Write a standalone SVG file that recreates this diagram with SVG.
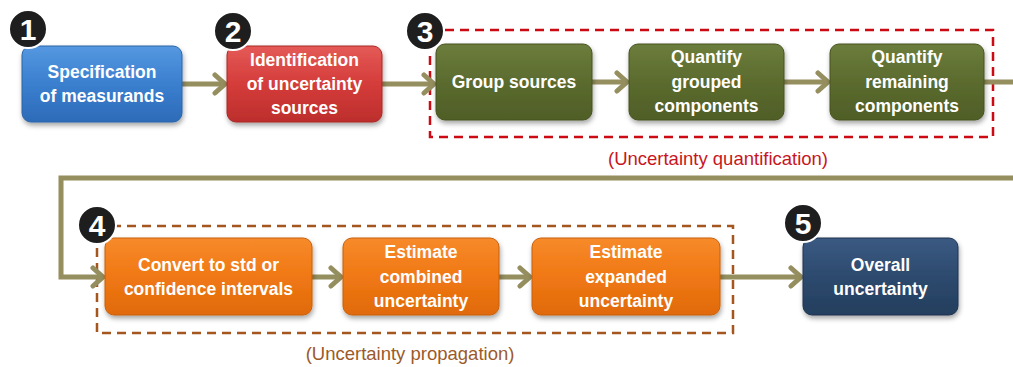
<svg xmlns="http://www.w3.org/2000/svg" width="1013" height="367" viewBox="0 0 1013 367">
<style>
.lbl{font-family:"Liberation Sans",Arial,sans-serif;font-weight:bold;font-size:17.5px;fill:#ffffff;text-anchor:middle}
.num{font-family:"Liberation Sans",Arial,sans-serif;font-weight:bold;font-size:30px;fill:#ffffff;text-anchor:middle}
.cap{font-family:"Liberation Sans",Arial,sans-serif;font-size:18.5px;text-anchor:middle}
.box{stroke-width:1;filter:url(#sh)}
.conn{fill:none;stroke:#958e5e;stroke-width:5;stroke-linejoin:miter}
.badge{fill:#1e1e1e;stroke:#ffffff;stroke-width:2}
</style>
<defs>
<filter id="sh" x="-10%" y="-10%" width="125%" height="135%">
<feDropShadow dx="1" dy="3" stdDeviation="2.5" flood-color="#000" flood-opacity="0.35"/>
</filter>
<linearGradient id="gBlue" x1="0" y1="0" x2="0" y2="1"><stop offset="0" stop-color="#5598e0"/><stop offset="0.5" stop-color="#3a7fcf"/><stop offset="1" stop-color="#2d6bb8"/></linearGradient>
<linearGradient id="gRed" x1="0" y1="0" x2="0" y2="1"><stop offset="0" stop-color="#e45a57"/><stop offset="0.5" stop-color="#d43c3a"/><stop offset="1" stop-color="#bd2e2c"/></linearGradient>
<linearGradient id="gGreen" x1="0" y1="0" x2="0" y2="1"><stop offset="0" stop-color="#6c7d3c"/><stop offset="0.5" stop-color="#5b6b2e"/><stop offset="1" stop-color="#4f5e27"/></linearGradient>
<linearGradient id="gOrange" x1="0" y1="0" x2="0" y2="1"><stop offset="0" stop-color="#f78a2a"/><stop offset="0.5" stop-color="#f07814"/><stop offset="1" stop-color="#e06a0c"/></linearGradient>
<linearGradient id="gNavy" x1="0" y1="0" x2="0" y2="1"><stop offset="0" stop-color="#3b5a82"/><stop offset="0.5" stop-color="#2d4a6e"/><stop offset="1" stop-color="#243e5e"/></linearGradient>
<marker id="arr" markerUnits="userSpaceOnUse" markerWidth="20" markerHeight="24" refX="13" refY="12" orient="auto" viewBox="0 0 20 24">
<path d="M3,3 L13,12 L3,21" fill="none" stroke="#958e5e" stroke-width="5" stroke-linecap="round" stroke-linejoin="miter"/>
</marker>
</defs>
<rect width="1013" height="367" fill="#ffffff"/>

<g id="groups">
<rect id="group-quantification" x="430" y="30" width="563" height="107" fill="none" stroke="#cc0a14" stroke-width="2.5" stroke-dasharray="9,6"/>
<text class="cap" x="718" y="165" fill="#c8161e">(Uncertainty quantification)</text>
<rect id="group-propagation" x="97" y="226" width="636" height="107" fill="none" stroke="#a4561e" stroke-width="2.5" stroke-dasharray="9,6"/>
<text class="cap" x="410" y="360" fill="#9c5a2a">(Uncertainty propagation)</text>
</g>

<g id="connectors">
<line class="conn" x1="182" y1="84" x2="225" y2="84" marker-end="url(#arr)"/>
<line class="conn" x1="382" y1="84" x2="434" y2="84" marker-end="url(#arr)"/>
<line class="conn" x1="592" y1="82" x2="627" y2="82" marker-end="url(#arr)"/>
<line class="conn" x1="784" y1="82" x2="828" y2="82" marker-end="url(#arr)"/>
<path class="conn" d="M984,82 H1030 V178 H61 V277 H103" marker-end="url(#arr)"/>
<line class="conn" x1="312" y1="277" x2="341" y2="277" marker-end="url(#arr)"/>
<line class="conn" x1="499" y1="277" x2="530" y2="277" marker-end="url(#arr)"/>
<line class="conn" x1="720" y1="277" x2="801" y2="277" marker-end="url(#arr)"/>
</g>

<g id="node1">
<rect class="box" x="22" y="46" width="160" height="76" rx="9" fill="url(#gBlue)" stroke="#2a64a8"/>
<text class="lbl" x="102" y="78">Specification</text>
<text class="lbl" x="102" y="102">of measurands</text>
<circle class="badge" cx="28" cy="29" r="19"/>
<text class="num" x="28" y="40">1</text>
</g>

<g id="node2">
<rect class="box" x="227" y="46" width="155" height="76" rx="9" fill="url(#gRed)" stroke="#a82826"/>
<text class="lbl" x="304.5" y="66">Identification</text>
<text class="lbl" x="304.5" y="90">of uncertainty</text>
<text class="lbl" x="304.5" y="114">sources</text>
<circle class="badge" cx="233" cy="31" r="19"/>
<text class="num" x="233" y="42">2</text>
</g>

<g id="node3a">
<rect class="box" x="436" y="44" width="156" height="76" rx="9" fill="url(#gGreen)" stroke="#46531f"/>
<text class="lbl" x="514" y="88">Group sources</text>
</g>

<g id="node3b">
<rect class="box" x="629" y="44" width="155" height="76" rx="9" fill="url(#gGreen)" stroke="#46531f"/>
<text class="lbl" x="706.5" y="63">Quantify</text>
<text class="lbl" x="706.5" y="88">grouped</text>
<text class="lbl" x="706.5" y="112">components</text>
</g>

<g id="node3c">
<rect class="box" x="830" y="44" width="154" height="76" rx="9" fill="url(#gGreen)" stroke="#46531f"/>
<text class="lbl" x="907" y="63">Quantify</text>
<text class="lbl" x="907" y="88">remaining</text>
<text class="lbl" x="907" y="112">components</text>
</g>

<g id="badge3">
<circle class="badge" cx="425" cy="31" r="19"/>
<text class="num" x="425" y="42">3</text>
</g>

<g id="node4a">
<rect class="box" x="105" y="238" width="207" height="77" rx="9" fill="url(#gOrange)" stroke="#c85f0a"/>
<text class="lbl" x="208.5" y="271">Convert to std or</text>
<text class="lbl" x="208.5" y="295">confidence  intervals</text>
</g>

<g id="node4b">
<rect class="box" x="343" y="238" width="156" height="77" rx="9" fill="url(#gOrange)" stroke="#c85f0a"/>
<text class="lbl" x="421" y="258">Estimate</text>
<text class="lbl" x="421" y="283">combined</text>
<text class="lbl" x="421" y="307">uncertainty</text>
</g>

<g id="node4c">
<rect class="box" x="532" y="238" width="188" height="77" rx="9" fill="url(#gOrange)" stroke="#c85f0a"/>
<text class="lbl" x="626" y="258">Estimate</text>
<text class="lbl" x="626" y="283">expanded</text>
<text class="lbl" x="626" y="307">uncertainty</text>
</g>

<g id="badge4">
<circle class="badge" cx="97" cy="225" r="19"/>
<text class="num" x="97" y="236">4</text>
</g>

<g id="node5">
<rect class="box" x="803" y="238" width="155" height="77" rx="9" fill="url(#gNavy)" stroke="#1f3550"/>
<text class="lbl" x="880.5" y="271">Overall</text>
<text class="lbl" x="880.5" y="295">uncertainty</text>
<circle class="badge" cx="803" cy="223" r="19"/>
<text class="num" x="803" y="234">5</text>
</g>
</svg>
